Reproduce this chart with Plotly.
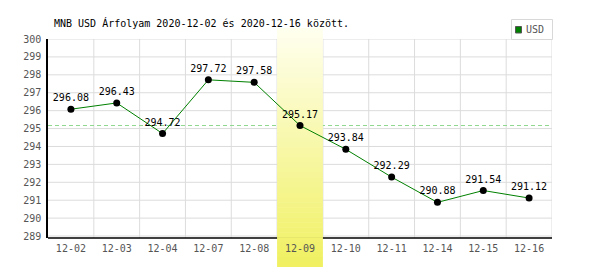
import plotly.graph_objects as go

# ---- data ----
dates = ["12-02", "12-03", "12-04", "12-07", "12-08", "12-09",
         "12-10", "12-11", "12-14", "12-15", "12-16"]
rates = [296.08, 296.43, 294.72, 297.72, 297.58, 295.17,
         293.84, 292.29, 290.88, 291.54, 291.12]
highlight_date = "12-09"
series_name = "USD"
title_text = "MNB USD Árfolyam 2020-12-02 és 2020-12-16 között."
y_ticks = list(range(289, 301))

# ---- layout geometry (pixels) ----
W, H = 600, 270
ML, MR, MT, MB = 48, 48, 39, 32
PW, PH = W - ML - MR, H - MT - MB


def px_x(x):
    return (x - ML) / PW


def px_y(y):
    return (H - MB - y) / PH


MONO = "DejaVu Sans Mono"
GRID = "#dcdcdc"

hi = dates.index(highlight_date)
shapes = []

# grid lines (drawn as shapes so the highlight band can cover them)
for v in y_ticks:
    shapes.append(dict(type="line", xref="paper", yref="y", x0=0, x1=1, y0=v, y1=v,
                       line=dict(color=GRID, width=1), layer="below"))
for i in range(len(dates)):
    shapes.append(dict(type="line", xref="x", yref="paper", x0=i + 0.5, x1=i + 0.5,
                       y0=0, y1=1, line=dict(color=GRID, width=1), layer="below"))

# dashed reference line at the highlighted day's rate
shapes.append(dict(type="line", xref="paper", yref="y", x0=0, x1=1,
                   y0=rates[hi], y1=rates[hi],
                   line=dict(color="#90d890", width=1, dash="4px,3px"), layer="below"))

# bottom axis line
shapes.append(dict(type="line", xref="paper", yref="paper", x0=0, x1=1, y0=0, y1=0,
                   line=dict(color="black", width=1.5), layer="below"))

# highlight band with vertical gradient (strips)
top_px, bot_px = 28, 267
c_top = (255, 255, 240)
c_bot = (240, 240, 96)
N = 48
step = (bot_px - top_px) / N
for k in range(N):
    t = (k + 0.5) / N
    c = tuple(round(c_top[j] + (c_bot[j] - c_top[j]) * t) for j in range(3))
    y_a = top_px + k * step
    y_b = min(bot_px, y_a + step + 0.6)
    shapes.append(dict(type="rect", xref="x", yref="paper",
                       x0=hi - 0.5, x1=hi + 0.5, y0=px_y(y_b), y1=px_y(y_a),
                       fillcolor="rgb(%d,%d,%d)" % c, line=dict(width=0), layer="below"))

# manual legend
shapes.append(dict(type="rect", xref="paper", yref="paper",
                   x0=px_x(511.5), x1=px_x(552.5), y0=px_y(39.5), y1=px_y(19.5),
                   fillcolor="white", line=dict(color="#d8d8d8", width=1), layer="above"))
shapes.append(dict(type="rect", xref="paper", yref="paper",
                   x0=px_x(515.5), x1=px_x(521.5), y0=px_y(33), y1=px_y(26.5),
                   fillcolor="#008000", line=dict(color="#555555", width=1), layer="above"))

annotations = [dict(xref="paper", yref="paper", x=px_x(523.5), y=px_y(30),
                    xanchor="left", yanchor="middle", text=series_name, showarrow=False,
                    font=dict(family=MONO, size=10, color="#555555"))]

fig = go.Figure()
fig.add_trace(go.Scatter(
    x=dates, y=rates, mode="lines+markers+text",
    text=["%.2f" % v for v in rates], textposition="top center",
    textfont=dict(family=MONO, size=10, color="black"),
    line=dict(color="#008000", width=1),
    marker=dict(color="black", size=7),
    cliponaxis=False, showlegend=False, name=series_name,
))

fig.update_layout(
    width=W, height=H,
    margin=dict(l=ML, r=MR, t=MT, b=MB),
    paper_bgcolor="white", plot_bgcolor="white",
    title=dict(text=title_text, x=54 / W, xanchor="left",
               y=1 - 23.5 / H, yanchor="middle",
               font=dict(family=MONO, size=10, color="black")),
    shapes=shapes, annotations=annotations,
    showlegend=False,
    xaxis=dict(type="category", range=[-0.5, len(dates) - 0.5], showgrid=False,
               zeroline=False, showline=False, ticks="", ticklabelstandoff=3,
               tickfont=dict(family=MONO, size=10, color="#555555"), fixedrange=True),
    yaxis=dict(range=[288.89, 300], tickvals=y_ticks, showgrid=False, zeroline=False,
               showline=True, linecolor="black", linewidth=1.5, ticks="",
               ticklabelstandoff=3,
               tickfont=dict(family=MONO, size=10, color="#555555"), fixedrange=True),
)

fig.write_html("out.html")
